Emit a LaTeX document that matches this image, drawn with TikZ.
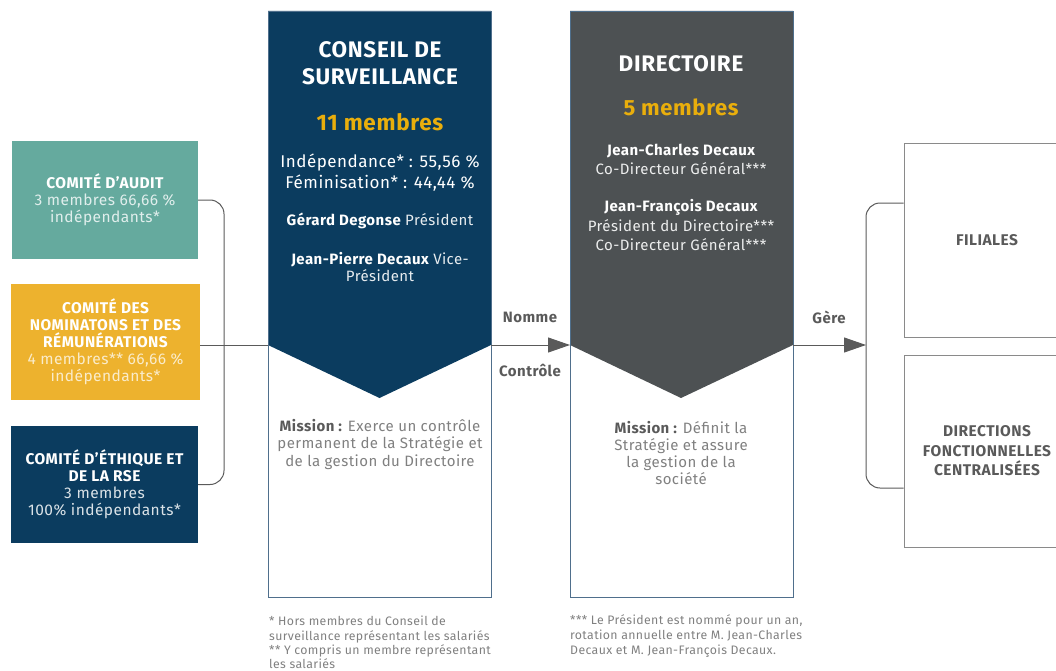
\documentclass[tikz,border=0pt]{standalone}
\usepackage{fontspec}
\setmainfont{Fira Sans}[LetterSpace=3]
\usetikzlibrary{arrows.meta}
\definecolor{tealc}{HTML}{65AA9E}
\definecolor{goldc}{HTML}{EDB22E}
\definecolor{navyc}{HTML}{0B3C5F}
\definecolor{darkc}{HTML}{4D5153}
\definecolor{goldtxt}{HTML}{E9AE0C}
\definecolor{greytxt}{HTML}{808080}
\definecolor{linec}{HTML}{5A5A5A}
\definecolor{borderc}{HTML}{4F6F8C}
\definecolor{boxline}{HTML}{8A8A8A}
\newcommand{\fs}[2]{\fontsize{#1}{#2}\selectfont}
\begin{document}
\begin{tikzpicture}[x=1pt,y=-1pt,
  comm/.style={rectangle, inner sep=0pt, align=center, text=white, font=\fs{15.5}{17}},
  panel/.style={rectangle, draw=borderc, line width=0.9pt, inner sep=0pt},
  txt/.style={inner sep=0pt, align=center},
  conn/.style={draw=linec, line width=1pt},
  tip/.style={-{Triangle[length=22pt,width=15pt]}},
  rbox/.style={rectangle, draw=boxline, line width=1pt, inner sep=0pt, align=center, text=linec, font=\bfseries\fs{15.5}{19.5}},
  lbl/.style={inner sep=0pt, text=linec, font=\bfseries\fs{15}{17}}]
\useasboundingbox (0,0) rectangle (1056,671);
\clip (0,0) rectangle (1056,671);

% committees
\node[comm, fill=tealc, minimum width=186pt, minimum height=118pt] (audit) at (105,200)
  {\bfseries COMITÉ D’AUDIT\\ \color{white!80!tealc}3 membres 66,66 \%\\ \color{white!80!tealc}indépendants*};
\node[comm, fill=goldc, minimum width=189pt, minimum height=116pt] (nomin) at (105.5,342)
  {\bfseries COMITÉ DES\\ \bfseries NOMINATONS ET DES\\ \bfseries RÉMUNÉRATIONS\\ \color{white!75!goldc}4 membres** 66,66 \%\\ \color{white!75!goldc}indépendants*};
\node[comm, fill=navyc, minimum width=187pt, minimum height=117pt] (ethique) at (104.5,484.5)
  {\bfseries COMITÉ D’ÉTHIQUE ET\\ \bfseries DE LA RSE\\ \color{white!85!navyc}3 membres\\ \color{white!85!navyc}100\% indépendants*};

% conseil panel
\fill[navyc] (268,11) -- (491,11) -- (491,345) -- (379.5,398) -- (268,345) -- cycle;
\node[panel, minimum width=223pt, minimum height=586pt] (conseil) at (379.5,304) {};
\coordinate (cl) at (268,345);
\coordinate (cr) at (491,345);
\node[txt, text=white, font=\bfseries\fs{22.5}{27}] at (380,63.5) {CONSEIL DE\\SURVEILLANCE};
\node[txt, text=goldtxt, font=\bfseries\fs{22.5}{26}] at (380,122) {11 membres};
\node[txt, text=white, font=\fs{17}{21}] at (380,172.5) {Indépendance* : 55,56 \%\\Féminisation* : 44,44 \%};
\node[txt, text=white!90!navyc, font=\fs{15}{17}] at (380,221) {{\bfseries\color{white}Gérard Degonse} Président};
\node[txt, text=white!90!navyc, font=\fs{15}{17}] at (380,267.5) {{\bfseries\color{white}Jean-Pierre Decaux} Vice-\\Président};
\node[txt, text=greytxt, font=\fs{15}{17.5}] at (380,444.5) {{\bfseries\color{linec}Mission :} Exerce un contrôle\\permanent de la Stratégie et\\de la gestion du Directoire};

% directoire panel
\fill[darkc] (570,11) -- (793,11) -- (793,345) -- (681,398) -- (570,345) -- cycle;
\node[panel, minimum width=223pt, minimum height=586pt] (directoire) at (681.5,304) {};
\coordinate (dl) at (570,345);
\coordinate (dr) at (793,345);
\node[txt, text=white, font=\bfseries\fs{22.5}{27}] at (681,64) {DIRECTOIRE};
\node[txt, text=goldtxt, font=\bfseries\fs{22}{26}] at (681,107) {5 membres};
\node[txt, text=white!90!darkc, font=\fs{15}{19}] at (681,159.5) {{\bfseries\color{white}Jean-Charles Decaux}\\Co-Directeur Général***};
\node[txt, text=white!90!darkc, font=\fs{15}{19.5}] at (681,225.5) {{\bfseries\color{white}Jean-François Decaux}\\Président du Directoire***\\Co-Directeur Général***};
\node[txt, text=greytxt, font=\fs{15}{17.3}] at (681,453) {{\bfseries\color{linec}Mission :} Définit la\\Stratégie et assure\\la gestion de la\\société};

% right boxes
\node[rbox, minimum width=166pt, minimum height=193pt] (filiales) at (987,240.5) {FILIALES};
\node[rbox, minimum width=166pt, minimum height=192pt] (directions) at (987,451) {DIRECTIONS\\FONCTIONNELLES\\CENTRALISÉES};
\coordinate (rb) at (866,345);

% connectors
\draw[conn, rounded corners=14pt] (audit.east) -| (224,345) |- (ethique.east);
\draw[conn] (nomin.east |- cl) -- (cl);
\draw[conn, tip, fill=darkc] (cr) -- (dl);
\draw[conn, tip, fill=darkc] (dr) -- (rb);
\draw[conn, rounded corners=14pt] (filiales.west |- 0,203) -| (rb) |- (directions.west |- 0,488);

% labels
\node[lbl] at (530,317) {Nomme};
\node[lbl] at (530,370) {Contrôle};
\node[lbl] at (829,317) {Gère};

% footnotes
\node[txt, anchor=west, align=left, text=greytxt, font=\fs{12.3}{14.3}] at (269,642.5)
  {* Hors membres du Conseil de\\surveillance représentant les salariés\\** Y compris un membre représentant\\les salariés};
\node[txt, anchor=west, align=left, text=greytxt, font=\fs{12.3}{14.8}] at (570,636)
  {*** Le Président est nommé pour un an,\\rotation annuelle entre M. Jean-Charles\\Decaux et M. Jean-François Decaux.};
\end{tikzpicture}
\end{document}
